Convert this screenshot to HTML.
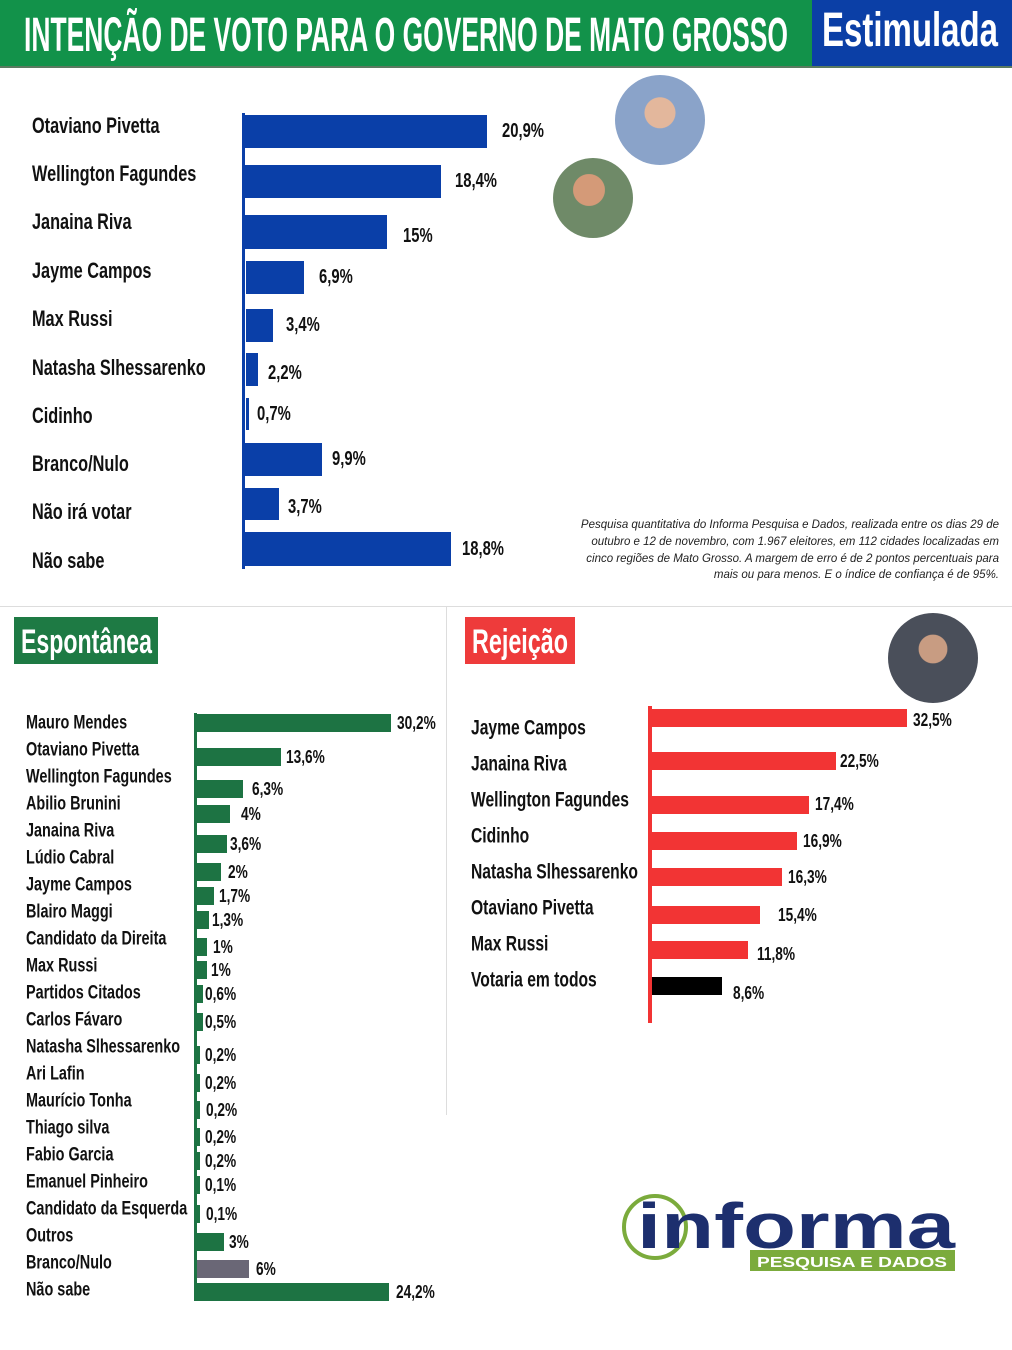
<!DOCTYPE html>
<html><head><meta charset="utf-8">
<style>
*{margin:0;padding:0;box-sizing:border-box}
body{width:1012px;height:1350px;background:#fff;position:relative;overflow:hidden;font-family:"Liberation Sans Narrow","Liberation Sans",sans-serif;font-weight:bold;color:#111}
.a{position:absolute;white-space:nowrap}
.t{position:absolute;white-space:nowrap;line-height:1;transform:translateY(-50%)}
svg text{font-family:"Liberation Sans Narrow","Liberation Sans",sans-serif;font-weight:bold}
</style></head><body>
<div class="a" style="left:0;top:0;width:1012px;height:68px;background:#12924a;border-bottom:2px solid #5a7a60"></div>
<div class="a" style="left:812px;top:0;width:200px;height:66px;background:#0b3fa6"></div>
<svg class="a" style="left:0;top:0" width="1012" height="68">
<text x="24" y="51" font-size="48" fill="#fff" textLength="764" lengthAdjust="spacingAndGlyphs">INTENÇÃO DE VOTO PARA O GOVERNO DE MATO GROSSO</text>
<text x="822" y="46" font-size="48" fill="#fff" textLength="176" lengthAdjust="spacingAndGlyphs">Estimulada</text>
</svg>

<div class="a" style="left:615px;top:75px;width:90px;height:90px;border-radius:50%;background:radial-gradient(circle at 50% 42%,#e3b79c 0 22%,#8aa3c9 23% 100%)"></div>
<div class="a" style="left:553px;top:158px;width:80px;height:80px;border-radius:50%;background:radial-gradient(circle at 45% 40%,#d49a78 0 24%,#6f8a68 25% 100%)"></div>
<div class="a" style="left:888px;top:613px;width:90px;height:90px;border-radius:50%;background:radial-gradient(circle at 50% 40%,#c89c82 0 20%,#4a4f5a 21% 100%)"></div>

<div class="a" style="left:500px;top:517px;width:499px;font-size:11.5px;font-family:'Liberation Sans',sans-serif;font-weight:normal;font-style:italic;text-align:right;line-height:16.8px;color:#222">Pesquisa quantitativa do Informa Pesquisa e Dados, realizada entre os dias 29 de<br>outubro e 12 de novembro, com 1.967 eleitores, em 112 cidades localizadas em<br>cinco regiões de Mato Grosso. A margem de erro é de 2 pontos percentuais para<br>mais ou para menos. E o índice de confiança é de 95%.</div>

<div class="a" style="left:0;top:606px;width:1012px;height:1px;background:#ddd"></div>
<div class="a" style="left:446px;top:607px;width:1px;height:508px;background:#ddd"></div>

<div class="a" style="left:14px;top:617px;width:144px;height:47px;background:#1e7a44"></div>
<div class="a" style="left:465px;top:617px;width:110px;height:47px;background:#ee3b3b"></div>
<svg class="a" style="left:0;top:610px" width="600" height="60">
<text x="21" y="43" font-size="34" fill="#fff" textLength="131" lengthAdjust="spacingAndGlyphs">Espontânea</text>
<text x="472" y="43" font-size="34" fill="#fff" textLength="96" lengthAdjust="spacingAndGlyphs">Rejeição</text>
</svg>

<svg class="a" style="left:615px;top:1190px" width="360" height="90">
<circle cx="40" cy="37" r="31" fill="none" stroke="#7bab3c" stroke-width="4"/>
<rect x="135" y="60" width="205" height="21" fill="#7bab3c"/>
<text x="237" y="77" style="font-family:'Liberation Sans'" font-size="15" fill="#fff" text-anchor="middle" textLength="190" lengthAdjust="spacingAndGlyphs">PESQUISA E DADOS</text>
<text x="22" y="58" style="font-family:'Liberation Sans'" font-size="64" fill="#1d2f6e" textLength="318" lengthAdjust="spacingAndGlyphs">informa</text>
</svg>

<div id="c"></div>
<script>
var c=document.getElementById('c'),h='';
function R(x,y,w,hh,col){h+='<div class="a" style="left:'+x+'px;top:'+y+'px;width:'+w+'px;height:'+hh+'px;background:'+col+'"></div>';}
function T(x,y,s,fs,sx){h+='<div class="t" style="left:'+x+'px;top:'+y+'px;font-size:'+fs+'px;transform:translateY(-50%) scaleX('+sx+');transform-origin:left center">'+s+'</div>';}
var B='#0a3fa8';
R(242,113,3,456,B);
var top1=[["Otaviano Pivetta",126,243,487,115,148,"20,9%",502,131],["Wellington Fagundes",174,243,441,165,198,"18,4%",455,181],["Janaina Riva",222,243,387,215,249,"15%",403,236],["Jayme Campos",271,246,304,261,294,"6,9%",319,277],["Max Russi",319,246,273,309,342,"3,4%",286,325],["Natasha Slhessarenko",368,246,258,353,386,"2,2%",268,373],["Cidinho",416,246,249,398,430,"0,7%",257,414],["Branco/Nulo",464,243,322,443,476,"9,9%",332,459],["Não irá votar",512,243,279,488,520,"3,7%",288,507],["Não sabe",561,243,451,532,566,"18,8%",462,549]];
top1.forEach(function(r){T(32,r[1],r[0],22,0.74);R(r[2],r[4],r[3]-r[2],r[5]-r[4],B);T(r[7],r[8],r[6],20,0.74);});
var G='#1d7343';
R(194,713,3,588,G);
var g=[["Mauro Mendes",723,391,"30,2%",397,723],["Otaviano Pivetta",750,281,"13,6%",286,757],["Wellington Fagundes",777,243,"6,3%",252,789],["Abilio Brunini",804,230,"4%",241,814],["Janaina Riva",831,227,"3,6%",230,844],["Lúdio Cabral",858,221,"2%",228,872],["Jayme Campos",885,214,"1,7%",219,896],["Blairo Maggi",912,209,"1,3%",212,920],["Candidato da Direita",939,207,"1%",213,947],["Max Russi",966,207,"1%",211,970],["Partidos Citados",993,203,"0,6%",205,994],["Carlos Fávaro",1020,203,"0,5%",205,1022],["Natasha Slhessarenko",1047,200,"0,2%",205,1055],["Ari Lafin",1074,200,"0,2%",205,1083],["Maurício Tonha",1101,200,"0,2%",206,1110],["Thiago silva",1128,200,"0,2%",205,1137],["Fabio Garcia",1155,200,"0,2%",205,1161],["Emanuel Pinheiro",1182,200,"0,1%",205,1185],["Candidato da Esquerda",1209,200,"0,1%",206,1214],["Outros",1236,224,"3%",229,1242],["Branco/Nulo",1263,249,"6%",256,1269],["Não sabe",1290,389,"24,2%",396,1292]];
g.forEach(function(r,i){T(26,r[1],r[0],19,0.76);var col=(i==20)?'#6a6776':G;R(197,r[5]-9,r[2]-197,18,col);T(r[4],r[5],r[3],18,0.76);});
var Rd='#f23434';
R(648,706,4,317,Rd);
var rr=[["Jayme Campos",728,709,907,"32,5%",913,720],["Janaina Riva",764,752,836,"22,5%",840,761],["Wellington Fagundes",800,796,809,"17,4%",815,804],["Cidinho",836,832,797,"16,9%",803,841],["Natasha Slhessarenko",872,868,782,"16,3%",788,877],["Otaviano Pivetta",908,906,760,"15,4%",778,915],["Max Russi",944,941,748,"11,8%",757,954],["Votaria em todos",980,977,722,"8,6%",733,993]];
rr.forEach(function(r,i){T(471,r[1],r[0],21,0.745);R(652,r[2],r[3]-652,18,i==7?'#000':Rd);T(r[5],r[6],r[4],18,0.76);});
c.innerHTML=h;
</script>
</body></html>
